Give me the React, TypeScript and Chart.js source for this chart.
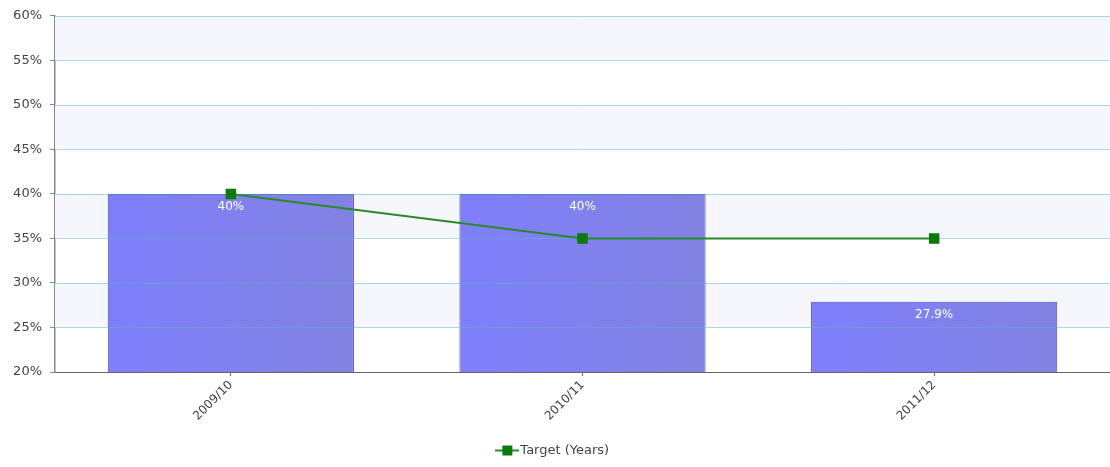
import React, { useEffect, useRef } from "react";
import { Chart, registerables } from "chart.js";

Chart.register(...registerables);

const categories = ["2009/10", "2010/11", "2011/12"];
const actualValues = [40, 40, 27.9];
const barLabels = ["40%", "40%", "27.9%"];
const targetValues = [40, 35, 35];
const targetLabel = "Target (Years)";
const yTicks = [20, 25, 30, 35, 40, 45, 50, 55, 60];

const FONT = "'DejaVu Sans', Verdana, sans-serif";

function makeLegendIcon(): HTMLCanvasElement {
  const c = document.createElement("canvas");
  c.width = 24;
  c.height = 12;
  const g = c.getContext("2d")!;
  g.strokeStyle = "#2a8a2a";
  g.lineWidth = 2;
  g.beginPath();
  g.moveTo(0, 6);
  g.lineTo(24, 6);
  g.stroke();
  g.fillStyle = "#0a7a0a";
  g.fillRect(7, 1, 10, 10);
  return c;
}

const bandsPlugin = {
  id: "bands",
  beforeDatasetsDraw(chart: any) {
    const { ctx, chartArea, scales } = chart;
    const y = scales.y;
    ctx.save();
    for (let i = 0; i < yTicks.length - 1; i++) {
      if (i % 2 === 1) {
        const top = y.getPixelForValue(yTicks[i + 1]);
        const bot = y.getPixelForValue(yTicks[i]);
        ctx.fillStyle = "#f5f7fd";
        ctx.fillRect(chartArea.left, top, chartArea.right - chartArea.left, bot - top);
      }
    }
    ctx.restore();
  },
  afterDatasetDraw(chart: any, args: any) {
    if (args.index !== 0) return;
    const { ctx, chartArea, scales } = chart;
    const y = scales.y;
    ctx.save();
    ctx.strokeStyle = "rgba(100,180,200,0.5)";
    ctx.lineWidth = 1;
    for (let i = 1; i < yTicks.length; i++) {
      const py = Math.round(y.getPixelForValue(yTicks[i])) + 0.5;
      ctx.beginPath();
      ctx.moveTo(chartArea.left, py);
      ctx.lineTo(chartArea.right, py);
      ctx.stroke();
    }
    const meta = chart.getDatasetMeta(0);
    ctx.fillStyle = "#ffffff";
    ctx.font = "12px " + FONT;
    ctx.textAlign = "center";
    ctx.textBaseline = "middle";
    meta.data.forEach((el: any, i: number) => {
      ctx.fillText(barLabels[i], el.x, el.y + 13);
    });
    ctx.restore();
  },
};

export default function App() {
  const ref = useRef<HTMLCanvasElement>(null);
  useEffect(() => {
    document.body.style.margin = "0";
    document.body.style.overflow = "hidden";
    const icon = makeLegendIcon();
    const chart = new Chart(ref.current!, {
      type: "bar",
      data: {
        labels: categories,
        datasets: [
          {
            type: "bar",
            label: "Actual",
            data: actualValues,
            order: 2,
            backgroundColor: (ctx: any) => {
              const ch = ctx.chart;
              const xs = ch.scales && ch.scales.x;
              if (!xs || !ch.chartArea || ctx.dataIndex === undefined) return "#8080f2";
              const cx = xs.getPixelForValue(ctx.dataIndex);
              const half = 124;
              const g = ch.ctx.createLinearGradient(cx - half, 0, cx + half, 0);
              g.addColorStop(0, "#7f7ffc");
              g.addColorStop(1, "#8282e2");
              return g;
            },
            borderColor: "#4a4ac4",
            borderWidth: 1,
            borderSkipped: false,
            barPercentage: 0.7,
            categoryPercentage: 1,
          } as any,
          {
            type: "line",
            label: targetLabel,
            data: targetValues,
            order: 0,
            borderColor: "#2a8a2a",
            borderWidth: 2,
            pointStyle: "rect",
            pointRadius: 6,
            pointBackgroundColor: "#0a7a0a",
            pointBorderColor: "#0a7a0a",
            fill: false,
            tension: 0,
          } as any,
        ],
      },
      options: {
        animation: false,
        responsive: false,
        maintainAspectRatio: false,
        layout: { autoPadding: false, padding: { top: 15, right: 0, bottom: 0, left: 0 } },
        plugins: {
          tooltip: { enabled: false },
          legend: {
            position: "bottom",
            labels: {
              usePointStyle: true,
              color: "#444",
              font: { family: FONT, size: 13 },
              padding: 10,
              generateLabels: () => [
                {
                  text: targetLabel,
                  datasetIndex: 1,
                  pointStyle: icon,
                  fillStyle: "#0a7a0a",
                  strokeStyle: "#0a7a0a",
                  lineWidth: 0,
                  hidden: false,
                  fontColor: "#444",
                },
              ],
            },
          },
        },
        scales: {
          x: {
            offset: true,
            grid: {
              offset: false,
              drawOnChartArea: false,
              drawTicks: true,
              tickLength: 4,
              tickColor: "#666",
            },
            border: { color: "#666", width: 1 },
            ticks: {
              color: "#444",
              font: { family: FONT, size: 12 },
              minRotation: 45,
              maxRotation: 45,
              padding: 2,
            },
            afterFit: (s: any) => {
              s.height = 62;
              s.paddingLeft = 0;
              s.paddingRight = 0;
            },
          },
          y: {
            min: 20,
            max: 60,
            ticks: {
              stepSize: 5,
              color: "#444",
              font: { family: FONT, size: 13 },
              padding: 8,
              callback: (v: any) => v + "%",
            },
            grid: {
              drawOnChartArea: false,
              tickColor: "#888",
              tickLength: 5,
            },
            border: { color: "#888", width: 1.5 },
            afterFit: (s: any) => {
              s.width = 55;
            },
          },
        },
      } as any,
      plugins: [bandsPlugin],
    });
    return () => chart.destroy();
  }, []);
  return (
    <div style={{ width: 1110, height: 467, overflow: "hidden" }}>
      <canvas
        ref={ref}
        width={1110}
        height={467}
        style={{ display: "block", width: 1110, height: 467 }}
      />
    </div>
  );
}
